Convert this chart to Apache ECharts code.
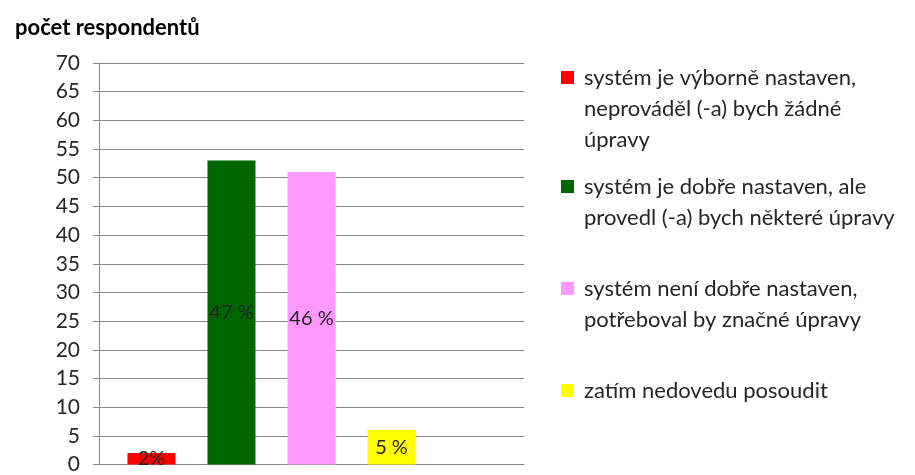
<!DOCTYPE html>
<html><head><meta charset="utf-8">
<script src="https://cdn.jsdelivr.net/npm/echarts@6/dist/echarts.min.js"></script>
<style>html,body{margin:0;padding:0;background:#fff}#c{width:915px;height:475px}</style>
</head><body><div id="c"></div>
<script>
const yTitle = 'počet respondentů';
const seriesNames = [
  'systém je výborně nastaven, neprováděl (-a) bych žádné úpravy',
  'systém je dobře nastaven, ale provedl (-a) bych některé úpravy',
  'systém není dobře nastaven, potřeboval by značné úpravy',
  'zatím nedovedu posoudit'
];
const legendLines = [
  ['systém je výborně nastaven,', 'neprováděl (-a) bych žádné', 'úpravy'],
  ['systém je dobře nastaven, ale', 'provedl (-a) bych některé úpravy'],
  ['systém není dobře nastaven,', 'potřeboval by značné úpravy'],
  ['zatím nedovedu posoudit']
];
const values = [2, 53, 51, 6];
const percentLabels = ['2%', '47 %', '46 %', '5 %'];
const colors = ['#ff0000', '#006600', '#ff99ff', '#ffff00'];
const yTicks = [0, 5, 10, 15, 20, 25, 30, 35, 40, 45, 50, 55, 60, 65, 70];

const FONT = 'Lato';
const chart = echarts.init(document.getElementById('c'), null, {renderer: 'canvas'});

const series = seriesNames.map((n, i) => ({
  name: n, type: 'bar', data: [values[i]],
  barWidth: 48, barGap: '66.7%',
  itemStyle: {color: colors[i]},
  label: {show: true, position: 'inside', formatter: () => percentLabels[i],
    color: '#222', fontFamily: FONT, fontSize: 20}
}));
// empty fifth slot (Excel layout)
series.push({name: '_', type: 'bar', data: [null], barWidth: 48, barGap: '66.7%'});

const legendTops = [62, 171, 273, 375];
const legends = legendLines.map((lines, i) => ({
  data: [seriesNames[i]],
  left: 556, top: legendTops[i], orient: 'vertical', padding: 0,
  icon: 'none', itemWidth: 0, itemHeight: 10, selectedMode: false,
  formatter: () => lines.map((l, j) => j === 0 ? '{m|}{g|}{t|' + l + '}' : '{s|}{t|' + l + '}').join('\n'),
  textStyle: {
    color: '#262626', fontFamily: FONT, fontSize: 22, lineHeight: 31,
    rich: {
      m: {backgroundColor: colors[i], width: 13, height: 13},
      g: {width: 10},
      s: {width: 23},
      t: {fontFamily: FONT, fontSize: 22, lineHeight: 31, color: '#262626'}
    }
  }
}));

chart.setOption({
  animation: false,
  title: {text: yTitle, left: 10, top: 12, textStyle: {fontFamily: FONT, fontSize: 22, fontWeight: 'bold', color: '#000'}},
  grid: {left: 99, right: 391, top: 63, bottom: 7},
  legend: legends,
  xAxis: {type: 'category', data: [''], axisLine: {show: true, lineStyle: {color: '#888'}},
    axisTick: {show: false}, axisLabel: {show: false}},
  yAxis: {type: 'value', min: 0, max: 70, interval: 5,
    axisLine: {show: true, lineStyle: {color: '#888'}},
    axisTick: {show: true, length: 6, lineStyle: {color: '#888'}},
    splitLine: {show: true, lineStyle: {color: '#888', width: 1}},
    axisLabel: {margin: 19, color: '#262626', fontFamily: FONT, fontSize: 21,
      formatter: v => yTicks.includes(v) ? String(v) : ''}},
  series: series
});
</script></body></html>
